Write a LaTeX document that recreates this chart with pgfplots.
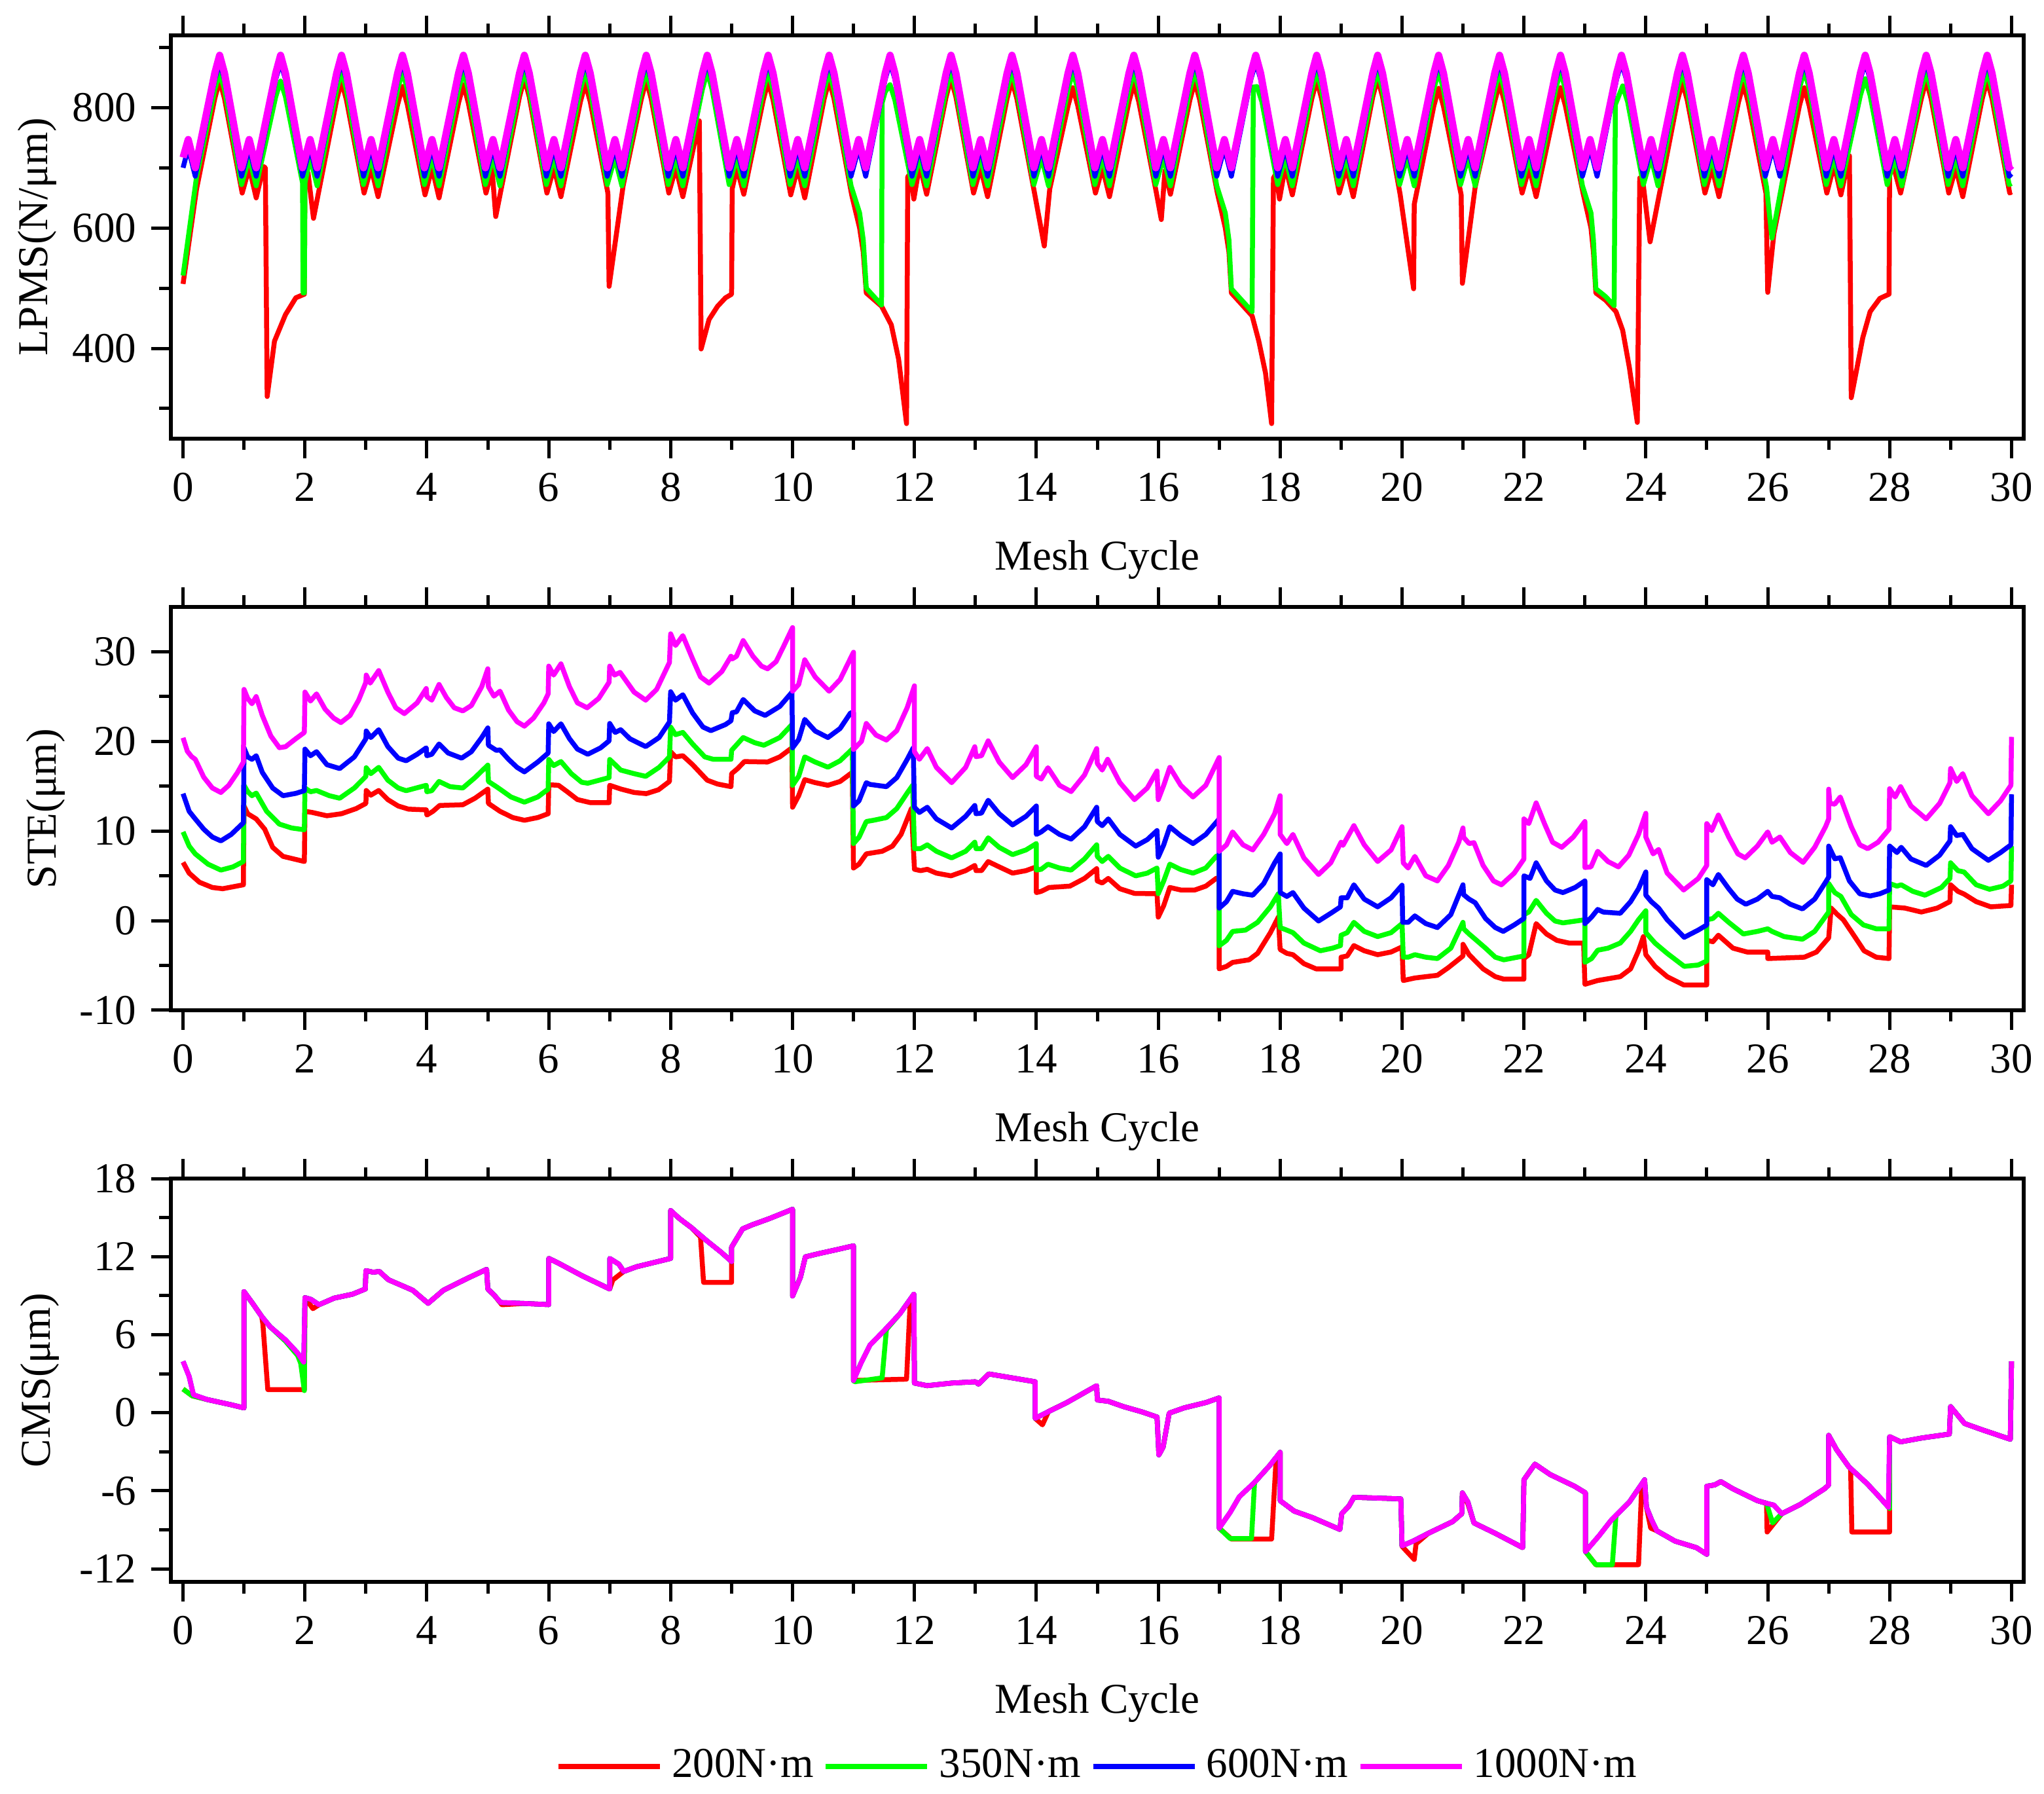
\documentclass[border=0pt]{standalone}
\usepackage{fontspec}
\setmainfont{Liberation Serif}
\usepackage{pgfplots}
\pgfplotsset{compat=1.18}
\usepackage{pgfplotstable}
\definecolor{cR}{RGB}{255,0,0}
\definecolor{cG}{RGB}{0,255,0}
\definecolor{cB}{RGB}{0,0,255}
\definecolor{cM}{RGB}{255,0,255}

\pgfplotstableread{
x y
0 3.95
0.1 2.78
0.17 1.38
0.39 1.02
0.79 0.61
1.0 0.37
1.0 9.31
1.14 8.41
1.29 7.4
1.43 6.6
1.68 5.6
1.88 4.59
1.98 3.89
2.0 8.85
2.1 8.71
2.23 8.3
2.48 8.81
2.78 9.11
2.99 9.51
3.0 10.92
3.12 10.8
3.22 10.86
3.37 10.22
3.77 9.41
4.02 8.41
4.27 9.41
4.66 10.32
4.98 11.02
5.0 9.51
5.11 9.01
5.21 8.47
5.6 8.4
6.0 8.31
6.0 11.86
6.15 11.52
6.55 10.52
7.0 9.51
7.0 11.86
7.15 11.42
7.23 10.86
7.44 11.22
7.79 11.62
8.0 11.86
8.0 15.54
8.14 14.94
8.34 14.23
8.59 13.23
8.83 12.33
9.0 11.62
9.0 12.73
9.18 14.13
9.33 14.43
9.63 14.94
10.0 15.64
10.0 8.97
10.13 10.42
10.21 11.98
10.42 12.22
10.72 12.53
11.0 12.83
11.0 2.48
11.12 3.79
11.27 5.2
11.52 6.4
11.76 7.6
11.99 9.11
12.0 2.28
12.21 2.08
12.61 2.28
13.0 2.38
13.05 2.2
13.22 2.98
13.6 2.68
13.98 2.38
13.98 -0.43
14.15 -0.03
14.5 0.78
14.99 2.08
15.0 0.98
15.18 0.88
15.43 0.47
15.73 0.07
15.98 -0.33
16.01 -3.24
16.08 -2.64
16.18 -0.03
16.43 0.38
16.78 0.78
17.0 1.14
17.0 -8.87
17.18 -7.66
17.33 -6.46
17.58 -5.35
17.83 -4.05
18.0 -3.04
18.0 -6.76
18.23 -7.56
18.53 -8.06
18.98 -8.97
19.01 -7.76
19.13 -7.16
19.21 -6.5
19.6 -6.56
19.98 -6.62
20.0 -10.23
20.18 -9.87
20.43 -9.27
20.83 -8.37
20.98 -7.76
20.99 -6.16
21.08 -6.86
21.18 -8.47
21.53 -9.27
21.98 -10.37
22.0 -5.15
22.18 -3.95
22.43 -4.75
22.83 -5.65
23.01 -6.16
23.01 -10.67
23.23 -9.47
23.43 -8.27
23.73 -6.86
23.98 -5.15
24.01 -7.26
24.1 -8.3
24.18 -9.07
24.48 -9.87
24.83 -10.37
25.0 -10.88
25.0 -5.65
25.13 -5.55
25.23 -5.29
25.43 -5.85
25.83 -6.76
25.98 -6.96
26.1 -7.1
26.23 -7.76
26.53 -7.06
26.93 -5.85
27.0 -5.55
27.0 -1.74
27.13 -2.84
27.33 -4.15
27.63 -5.45
27.83 -6.46
27.98 -7.26
28.0 -1.84
28.18 -2.24
28.53 -1.94
28.98 -1.64
29.0 0.47
29.23 -0.83
29.53 -1.33
29.98 -2.04
30.0 3.95
}\cmag

\pgfplotsset{
  panel/.style={
    scale only axis, width=566pt, height=123.2pt,
    anchor=north west,
    xmin=-0.2, xmax=30.2,
    xtick={0,2,...,30}, minor xtick={1,3,...,29},
    tick align=outside,
    xtick pos=both, ytick pos=left,
    major tick length=6pt, minor tick length=3.5pt,
    tick style={black,line width=1pt},
    axis line style={black,line width=1.2pt},
    /pgf/number format/assume math mode=true,
    xlabel={Mesh Cycle},
    xlabel style={at={(axis description cs:0.5,-0.30)},anchor=center},
    every axis plot/.append style={line width=1.5pt, line join=round, mark=none},
  },
}

\begin{document}
\fontsize{13pt}{15pt}\selectfont
\begin{tikzpicture}
\path[use as bounding box] (0,0) rectangle (624.4pt,-548pt);

% ---------------- panel (a)
\begin{axis}[panel, at={(52.2pt,-10.8pt)},
  ymin=250, ymax=920, ytick={400,600,800}, minor ytick={300,500,700,900},
  ylabel={LPMS(N/μm)},
  ylabel style={at={(axis description cs:-0.072,0.5)},anchor=center}]
\addplot[cR] coordinates {
(0,507) (0.22,664) (0.52,815) (0.6,845) (0.68,815)
(0.97,658) (1.085,700) (1.2,650) (1.32,702) (1.35,700) (1.38,320) (1.5,412) (1.68,456) (1.85,484) (1.99,490)
(2.0,690) (2.05,692) (2.14,616) (2.52,813) (2.6,843) (2.68,813)
(2.97,658) (3.085,700) (3.2,652) (3.52,805) (3.6,835) (3.68,805)
(3.97,655) (4.085,700) (4.2,650) (4.52,808) (4.6,838) (4.68,808)
(4.97,658) (5.07,697) (5.13,619) (5.52,818) (5.6,848) (5.68,818)
(5.97,658) (6.085,700) (6.2,652) (6.52,810) (6.6,840) (6.68,810)
(6.97,658) (6.99,503) (7.22,670) (7.52,815) (7.6,845) (7.68,815)
(7.97,658) (8.085,700) (8.2,652) (8.47,778) (8.5,399) (8.63,448) (8.77,470) (8.9,484) (9.0,490)
(9.01,665) (9.085,700) (9.2,656) (9.52,813) (9.6,843) (9.68,813)
(9.97,655) (10.085,700) (10.2,650) (10.52,815) (10.6,845) (10.68,815)
(10.97,655) (11.1,600) (11.16,560) (11.21,492) (11.46,470) (11.62,439) (11.74,382) (11.87,275) (11.89,685) (11.93,690) (11.99,648) (12.085,705) (12.2,656) (12.52,818) (12.6,848) (12.68,818)
(12.97,658) (13.085,700) (13.2,652) (13.52,815) (13.6,845) (13.68,815)
(13.97,658) (14.13,570) (14.22,665) (14.52,803) (14.6,833) (14.68,803)
(14.97,658) (15.085,700) (15.2,652) (15.52,810) (15.6,840) (15.68,810)
(15.97,658) (16.05,614) (16.11,695) (16.2,656) (16.52,813) (16.6,843) (16.68,813)
(16.97,658) (17.1,600) (17.16,560) (17.2,492) (17.54,454) (17.65,412) (17.76,359) (17.86,275) (17.89,683) (17.93,690) (17.99,648) (18.085,703) (18.2,655) (18.52,815) (18.6,845) (18.68,815)
(18.97,658) (19.085,700) (19.2,652) (19.52,818) (19.6,848) (19.68,818)
(19.97,655) (20.19,499) (20.2,639) (20.52,802) (20.6,832) (20.68,802)
(20.97,655) (20.99,508) (21.2,668) (21.52,810) (21.6,840) (21.68,810)
(21.97,658) (22.085,700) (22.2,652) (22.52,803) (22.6,833) (22.68,803)
(22.97,658) (23.1,600) (23.14,560) (23.18,492) (23.34,480) (23.51,461) (23.62,430) (23.73,368) (23.86,277) (23.9,683) (23.96,670) (24.07,577) (24.52,812) (24.6,842) (24.68,812)
(24.97,658) (25.085,700) (25.2,652) (25.52,809) (25.6,839) (25.68,809)
(25.97,658) (26.0,493) (26.1,590) (26.52,803) (26.6,833) (26.68,803)
(26.97,658) (27.09,705) (27.2,655) (27.34,720) (27.37,318) (27.56,418) (27.68,461) (27.84,483) (27.99,490) (28.0,702) (28.07,700) (28.18,658) (28.52,815) (28.6,845) (28.68,815)
(28.97,658) (29.085,700) (29.2,652) (29.52,815) (29.6,845) (29.68,815)
(29.97,658) (30,660)
};
\addplot[cG] coordinates {
(0,521) (0.22,684) (0.52,830) (0.6,858) (0.68,830)
(0.96,672) (1.085,717) (1.2,670) (1.52,818) (1.6,844) (1.68,818) (1.96,675) (1.97,492) (1.99,492) (2.0,675) (2.085,717) (2.2,670) (2.52,830) (2.6,860) (2.68,830)
(2.96,672) (3.085,717) (3.2,670) (3.52,830) (3.6,860) (3.68,830)
(3.96,672) (4.085,717) (4.2,670) (4.52,830) (4.6,860) (4.68,830)
(4.96,672) (5.085,717) (5.2,670) (5.52,830) (5.6,860) (5.68,830)
(5.96,672) (6.085,717) (6.2,670) (6.52,830) (6.6,860) (6.68,830)
(6.96,672) (7.085,717) (7.2,670) (7.52,830) (7.6,860) (7.68,830)
(7.96,672) (8.085,717) (8.2,670) (8.52,830) (8.6,860) (8.68,830)
(8.96,672) (9.085,717) (9.2,670) (9.52,830) (9.6,860) (9.68,830)
(9.96,672) (10.085,717) (10.2,670) (10.52,830) (10.6,860) (10.68,830)
(10.96,670) (11.1,625) (11.16,580) (11.21,500) (11.46,472) (11.47,808) (11.52,826) (11.6,838) (11.68,812)
(11.96,672) (12.085,717) (12.2,670) (12.52,830) (12.6,860) (12.68,830)
(12.96,672) (13.085,717) (13.2,670) (13.52,830) (13.6,860) (13.68,830)
(13.96,672) (14.085,717) (14.2,670) (14.52,830) (14.6,860) (14.68,830)
(14.96,672) (15.085,717) (15.2,670) (15.52,830) (15.6,860) (15.68,830)
(15.96,672) (16.085,717) (16.2,670) (16.52,830) (16.6,860) (16.68,830)
(16.96,670) (17.1,625) (17.16,580) (17.2,499) (17.54,461) (17.56,834) (17.62,835) (17.7,810)
(17.96,672) (18.085,717) (18.2,670) (18.52,830) (18.6,860) (18.68,830)
(18.96,672) (19.085,717) (19.2,670) (19.52,830) (19.6,860) (19.68,830)
(19.96,672) (20.085,717) (20.2,670) (20.52,830) (20.6,860) (20.68,830)
(20.96,672) (21.085,717) (21.2,670) (21.52,830) (21.6,860) (21.68,830)
(21.96,672) (22.085,717) (22.2,670) (22.52,830) (22.6,860) (22.68,830)
(22.96,670) (23.1,625) (23.14,580) (23.18,499) (23.34,486) (23.48,471) (23.5,805) (23.62,836) (23.7,810)
(23.96,672) (24.085,717) (24.2,670) (24.52,830) (24.6,860) (24.68,830)
(24.96,672) (25.085,717) (25.2,670) (25.52,830) (25.6,860) (25.68,830)
(25.98,668) (26.07,583) (26.52,832) (26.6,861) (26.68,832)
(26.96,672) (27.085,717) (27.2,670) (27.52,820) (27.6,848) (27.68,820)
(27.96,672) (28.085,717) (28.2,670) (28.52,830) (28.6,860) (28.68,830)
(28.96,672) (29.085,717) (29.2,670) (29.52,830) (29.6,860) (29.68,830)
(29.96,672) (30,674)
};
\addplot[cB] coordinates {
(0,700) (0.085,733) (0.2,686) (0.52,847) (0.6,875) (0.68,847)
(0.96,686) (1.085,733) (1.2,686) (1.52,847) (1.6,875) (1.68,847)
(1.96,686) (2.085,733) (2.2,686) (2.52,847) (2.6,875) (2.68,847)
(2.96,686) (3.085,733) (3.2,686) (3.52,847) (3.6,875) (3.68,847)
(3.96,686) (4.085,733) (4.2,686) (4.52,847) (4.6,875) (4.68,847)
(4.96,686) (5.085,733) (5.2,686) (5.52,847) (5.6,875) (5.68,847)
(5.96,686) (6.085,733) (6.2,686) (6.52,847) (6.6,875) (6.68,847)
(6.96,686) (7.085,733) (7.2,686) (7.52,847) (7.6,875) (7.68,847)
(7.96,686) (8.085,733) (8.2,686) (8.52,847) (8.6,875) (8.68,847)
(8.96,686) (9.085,733) (9.2,686) (9.52,847) (9.6,875) (9.68,847)
(9.96,686) (10.085,733) (10.2,686) (10.52,847) (10.6,875) (10.68,847)
(10.96,686) (11.085,733) (11.2,686) (11.52,847) (11.6,875) (11.68,847)
(11.96,686) (12.085,733) (12.2,686) (12.52,847) (12.6,875) (12.68,847)
(12.96,686) (13.085,733) (13.2,686) (13.52,847) (13.6,875) (13.68,847)
(13.96,686) (14.085,733) (14.2,686) (14.52,847) (14.6,875) (14.68,847)
(14.96,686) (15.085,733) (15.2,686) (15.52,847) (15.6,875) (15.68,847)
(15.96,686) (16.085,733) (16.2,686) (16.52,847) (16.6,875) (16.68,847)
(16.96,686) (17.085,733) (17.2,686) (17.52,847) (17.6,875) (17.68,847)
(17.96,686) (18.085,733) (18.2,686) (18.52,847) (18.6,875) (18.68,847)
(18.96,686) (19.085,733) (19.2,686) (19.52,847) (19.6,875) (19.68,847)
(19.96,686) (20.085,733) (20.2,686) (20.52,847) (20.6,875) (20.68,847)
(20.96,686) (21.085,733) (21.2,686) (21.52,847) (21.6,875) (21.68,847)
(21.96,686) (22.085,733) (22.2,686) (22.52,847) (22.6,875) (22.68,847)
(22.96,686) (23.085,733) (23.2,686) (23.52,847) (23.6,875) (23.68,847)
(23.96,686) (24.085,733) (24.2,686) (24.52,847) (24.6,875) (24.68,847)
(24.96,686) (25.085,733) (25.2,686) (25.52,847) (25.6,875) (25.68,847)
(25.96,686) (26.085,733) (26.2,686) (26.52,847) (26.6,875) (26.68,847)
(26.96,686) (27.085,733) (27.2,686) (27.52,847) (27.6,875) (27.68,847)
(27.96,686) (28.085,733) (28.2,686) (28.52,847) (28.6,875) (28.68,847)
(28.96,686) (29.085,733) (29.2,686) (29.52,847) (29.6,875) (29.68,847)
(29.96,686) (30,690)
};
\addplot[cM, line width=2.2pt] coordinates {
(0,717) (0.085,747) (0.2,700) (0.52,857) (0.6,887) (0.68,857)
(0.96,700) (1.085,747) (1.2,700) (1.52,857) (1.6,887) (1.68,857)
(1.96,700) (2.085,747) (2.2,700) (2.52,857) (2.6,887) (2.68,857)
(2.96,700) (3.085,747) (3.2,700) (3.52,857) (3.6,887) (3.68,857)
(3.96,700) (4.085,747) (4.2,700) (4.52,857) (4.6,887) (4.68,857)
(4.96,700) (5.085,747) (5.2,700) (5.52,857) (5.6,887) (5.68,857)
(5.96,700) (6.085,747) (6.2,700) (6.52,857) (6.6,887) (6.68,857)
(6.96,700) (7.085,747) (7.2,700) (7.52,857) (7.6,887) (7.68,857)
(7.96,700) (8.085,747) (8.2,700) (8.52,857) (8.6,887) (8.68,857)
(8.96,700) (9.085,747) (9.2,700) (9.52,857) (9.6,887) (9.68,857)
(9.96,700) (10.085,747) (10.2,700) (10.52,857) (10.6,887) (10.68,857)
(10.96,700) (11.085,747) (11.2,700) (11.52,857) (11.6,887) (11.68,857)
(11.96,700) (12.085,747) (12.2,700) (12.52,857) (12.6,887) (12.68,857)
(12.96,700) (13.085,747) (13.2,700) (13.52,857) (13.6,887) (13.68,857)
(13.96,700) (14.085,747) (14.2,700) (14.52,857) (14.6,887) (14.68,857)
(14.96,700) (15.085,747) (15.2,700) (15.52,857) (15.6,887) (15.68,857)
(15.96,700) (16.085,747) (16.2,700) (16.52,857) (16.6,887) (16.68,857)
(16.96,700) (17.085,747) (17.2,700) (17.52,857) (17.6,887) (17.68,857)
(17.96,700) (18.085,747) (18.2,700) (18.52,857) (18.6,887) (18.68,857)
(18.96,700) (19.085,747) (19.2,700) (19.52,857) (19.6,887) (19.68,857)
(19.96,700) (20.085,747) (20.2,700) (20.52,857) (20.6,887) (20.68,857)
(20.96,700) (21.085,747) (21.2,700) (21.52,857) (21.6,887) (21.68,857)
(21.96,700) (22.085,747) (22.2,700) (22.52,857) (22.6,887) (22.68,857)
(22.96,700) (23.085,747) (23.2,700) (23.52,857) (23.6,887) (23.68,857)
(23.96,700) (24.085,747) (24.2,700) (24.52,857) (24.6,887) (24.68,857)
(24.96,700) (25.085,747) (25.2,700) (25.52,857) (25.6,887) (25.68,857)
(25.96,700) (26.085,747) (26.2,700) (26.52,857) (26.6,887) (26.68,857)
(26.96,700) (27.085,747) (27.2,700) (27.52,857) (27.6,887) (27.68,857)
(27.96,700) (28.085,747) (28.2,700) (28.52,857) (28.6,887) (28.68,857)
(28.96,700) (29.085,747) (29.2,700) (29.52,857) (29.6,887) (29.68,857)
(29.96,700) (30,704)
};
\node at (axis description cs:-0.0647,0.977) {(a)};
\end{axis}

% ---------------- panel (b)
\begin{axis}[panel, at={(52.2pt,-185.4pt)},
  ymin=-10, ymax=35, ytick={-10,0,10,20,30}, minor ytick={-5,5,15,25},
  ylabel={STE(μm)},
  ylabel style={at={(axis description cs:-0.0675,0.5)},anchor=center}]
\addplot[cR] coordinates {
(0,6.5) (0.1,5.3) (0.27,4.28) (0.48,3.7) (0.65,3.56) (0.99,4.0)
(1.0,12.79) (1.06,11.93) (1.2,11.35) (1.34,10.2) (1.47,8.18) (1.64,7.17) (1.99,6.6)
(2.0,12.2) (2.12,12.07) (2.36,11.7) (2.6,11.93) (2.84,12.5) (3.0,13.08)
(3.005,14.52) (3.08,14.0) (3.21,14.52) (3.36,13.5) (3.53,12.79) (3.7,12.44) (3.99,12.36) (4.0,11.78) (4.1,12.2) (4.21,12.85) (4.59,12.93) (4.79,13.66) (5.0,14.67) (5.01,13.08) (5.2,12.2) (5.41,11.5) (5.6,11.2) (5.82,11.5) (5.99,11.93)
(6.0,15.16) (6.16,15.1) (6.3,14.4) (6.47,13.51) (6.68,13.17) (6.99,13.17)
(7.0,15.1) (7.19,14.67) (7.4,14.3) (7.6,14.17) (7.8,14.6) (7.98,15.53)
(8.0,18.85) (8.08,18.27) (8.2,18.4) (8.36,17.4) (8.6,15.67) (8.77,15.24) (8.99,14.95) (9.0,16.4) (9.1,16.97) (9.21,17.75) (9.59,17.7) (9.79,18.27) (9.99,19.28)
(10.0,12.65) (10.1,13.94) (10.2,15.73) (10.37,15.4) (10.58,15.1) (10.78,15.53) (10.98,16.54)
(11.0,5.87) (11.09,6.3) (11.21,7.45) (11.47,7.74) (11.64,8.32) (11.78,9.62) (11.95,12.5)
(12.0,5.73) (12.1,5.58) (12.21,5.73) (12.36,5.3) (12.6,5.0) (12.84,5.58) (12.99,6.16) (13.01,5.58) (13.1,5.58) (13.21,6.59) (13.39,6.0) (13.61,5.3) (13.83,5.58) (14.0,6.0)
(14.0,3.13) (14.08,3.27) (14.21,3.7) (14.55,3.85) (14.79,4.71) (14.99,5.8) (15.0,4.43) (15.08,4.2) (15.18,4.71) (15.37,3.56) (15.61,3.04) (15.98,3.0)
(16.0,0.39) (16.09,1.68) (16.19,3.7) (16.37,3.42) (16.6,3.42) (16.78,3.85) (16.95,4.71) (17.0,4.8)
(17.0,-5.38) (17.12,-5.1) (17.22,-4.66) (17.49,-4.37) (17.63,-3.65) (17.84,-1.34) (17.97,0.39)
(18.0,-3.22) (18.11,-3.65) (18.21,-3.8) (18.39,-4.8) (18.59,-5.38) (19.0,-5.38) (19.0,-4.08) (19.1,-3.94) (19.21,-2.78) (19.38,-3.36) (19.6,-3.8) (19.82,-3.5) (20.0,-2.93)
(20.02,-6.68) (20.21,-6.4) (20.39,-6.25) (20.58,-6.1) (20.76,-5.24) (21.0,-3.94) (21.0,-2.64) (21.1,-3.8) (21.33,-5.38) (21.53,-6.25) (21.67,-6.53) (22.0,-6.53)
(22.0,-4.23) (22.08,-3.8) (22.2,-0.33) (22.37,-1.49) (22.54,-2.2) (22.74,-2.5) (22.98,-2.5)
(23.0,-7.1) (23.21,-6.68) (23.58,-6.25) (23.75,-5.38) (23.88,-3.36) (23.96,-1.78) (24.0,-3.8) (24.15,-5.1) (24.35,-6.25) (24.62,-7.17) (25.0,-7.17)
(25.0,-2.2) (25.1,-2.35) (25.19,-1.63) (25.43,-3.07) (25.66,-3.5) (26.0,-3.5) (26.0,-4.23) (26.6,-4.08) (26.8,-3.5) (27.0,-1.92) (27.04,1.4) (27.14,0.7) (27.24,0.1) (27.44,-1.92) (27.58,-3.36) (27.78,-4.08) (27.99,-4.23)
(28.0,1.54) (28.25,1.4) (28.52,0.96) (28.78,1.4) (28.99,2.12) (29.0,4.0) (29.12,3.27) (29.22,2.97) (29.42,2.12) (29.66,1.54) (29.99,1.69)
(30.0,4.0)
};
\addplot[cG] coordinates {
(0,9.9) (0.1,8.32) (0.2,7.45) (0.41,6.3) (0.62,5.64) (0.82,6.0) (0.99,6.6)
(1.0,15.1) (1.06,14.4) (1.13,13.94) (1.2,14.23) (1.37,12.21) (1.58,10.77) (1.78,10.34) (1.99,10.14)
(2.0,14.8) (2.09,14.38) (2.19,14.52) (2.4,13.94) (2.57,13.66) (2.81,14.8) (3.0,16.1)
(3.005,17.06) (3.08,16.4) (3.21,17.1) (3.36,15.67) (3.53,14.8) (3.66,14.5) (3.99,15.1) (4.0,14.38) (4.08,14.5) (4.2,15.53) (4.38,14.95) (4.59,14.8) (4.79,15.96) (5.0,17.35) (5.01,15.53) (5.14,14.95) (5.2,14.67) (5.38,13.8) (5.6,13.22) (5.82,13.8) (5.99,14.67)
(6.0,17.98) (6.08,17.3) (6.2,17.75) (6.37,16.4) (6.54,15.44) (6.64,15.33) (6.99,15.96)
(7.0,17.98) (7.09,17.4) (7.18,16.8) (7.4,16.4) (7.59,16.1) (7.81,17.1) (7.98,18.27)
(8.0,21.6) (8.08,20.75) (8.2,21.0) (8.36,19.71) (8.56,18.27) (8.7,18.0) (8.99,18.0) (9.0,19.0) (9.19,20.43) (9.38,19.85) (9.53,19.57) (9.79,20.43) (9.99,21.88)
(10.0,15.1) (10.1,16.1) (10.2,18.27) (10.37,17.7) (10.58,17.12) (10.78,17.84) (10.98,19.14)
(11.0,8.6) (11.09,9.3) (11.21,11.06) (11.33,11.2) (11.54,11.5) (11.71,12.5) (11.88,14.23) (11.97,15.1)
(12.0,8.03) (12.1,8.03) (12.21,8.46) (12.36,7.74) (12.61,7.0) (12.84,7.74) (12.99,8.75) (13.01,8.03) (13.1,8.03) (13.21,9.24) (13.39,8.18) (13.61,7.37) (13.83,7.89) (14.0,8.6)
(14.0,5.64) (14.08,5.73) (14.19,6.3) (14.38,5.87) (14.57,5.64) (14.79,6.88) (14.99,8.46) (15.0,7.17) (15.08,6.6) (15.18,7.17) (15.37,5.87) (15.63,5.0) (15.82,5.3) (15.98,5.87)
(16.0,3.0) (16.09,4.43) (16.19,6.3) (16.37,5.7) (16.57,5.3) (16.78,5.87) (16.95,7.17) (17.0,7.3)
(17.0,-2.8) (17.12,-2.2) (17.22,-1.2) (17.43,-1.06) (17.63,-0.19) (17.84,1.54) (17.97,3.0)
(18.0,-0.77) (18.11,-1.06) (18.21,-1.34) (18.39,-2.5) (18.66,-3.36) (18.86,-3.07) (18.99,-2.78) (19.0,-1.63) (19.1,-1.34) (19.21,-0.19) (19.38,-1.2) (19.6,-1.78) (19.82,-1.34) (20.0,-0.33)
(20.02,-4.08) (20.1,-4.08) (20.21,-3.8) (20.39,-4.08) (20.58,-4.23) (20.8,-3.07) (21.0,-0.19) (21.01,-0.9) (21.1,-1.49) (21.2,-2.07) (21.37,-3.07) (21.53,-4.08) (21.67,-4.37) (22.0,-3.94)
(22.0,0.68) (22.08,0.96) (22.2,2.26) (22.37,0.82) (22.51,-0.04) (22.64,-0.25) (23.0,0.1)
(23.0,-4.66) (23.11,-4.23) (23.21,-3.3) (23.38,-3.07) (23.58,-2.5) (23.75,-1.2) (23.88,0.1) (24.0,1.1)
(24.0,-1.34) (24.15,-2.5) (24.35,-3.65) (24.63,-5.1) (24.86,-4.95) (25.0,-4.5)
(25.0,0.1) (25.1,0.24) (25.19,0.82) (25.36,-0.19) (25.6,-1.49) (25.83,-1.2) (26.0,-0.91) (26.07,-1.2) (26.27,-1.78) (26.57,-2.07) (26.77,-1.2) (27.0,0.96)
(27.0,4.14) (27.1,3.13) (27.2,2.7) (27.37,0.68) (27.57,-0.48) (27.78,-0.91) (27.99,-0.91)
(28.0,4.14) (28.12,3.85) (28.19,4.0) (28.38,3.27) (28.58,2.84) (28.85,3.7) (28.99,4.71) (29.0,6.45) (29.12,5.58) (29.22,5.43) (29.42,4.0) (29.64,3.5) (29.86,3.85) (29.99,4.43)
(30.0,8.32)
};
\addplot[cB] coordinates {
(0,14.17) (0.1,12.2) (0.2,11.35) (0.34,10.2) (0.48,9.33) (0.62,8.9) (0.79,9.62) (0.99,10.92)
(1.0,19.28) (1.06,18.27) (1.13,18.0) (1.2,18.4) (1.3,16.54) (1.47,14.8) (1.64,13.94) (1.85,14.2) (1.99,14.5)
(2.0,19.14) (2.09,18.4) (2.19,18.85) (2.36,17.4) (2.57,16.97) (2.81,18.27) (3.0,20.3)
(3.005,21.16) (3.08,20.43) (3.21,21.3) (3.36,19.42) (3.53,18.13) (3.66,17.84) (3.84,18.56) (3.99,19.28) (4.0,18.4) (4.08,18.56) (4.2,19.71) (4.35,18.7) (4.57,18.13) (4.73,18.85) (4.9,20.43) (5.0,21.5) (5.01,19.57) (5.14,19.0) (5.2,19.05) (5.34,18.0) (5.48,17.1) (5.6,16.6) (5.82,17.7) (5.99,18.7)
(6.0,21.96) (6.08,21.1) (6.2,21.96) (6.34,20.3) (6.47,19.14) (6.64,18.56) (6.85,19.28) (6.99,20.06)
(7.0,22.0) (7.09,21.0) (7.18,21.3) (7.33,20.3) (7.59,19.42) (7.81,20.43) (7.98,22.16)
(8.0,25.54) (8.08,24.6) (8.2,25.2) (8.36,23.17) (8.53,21.6) (8.66,21.2) (8.9,21.88) (8.99,22.3) (9.01,23.2) (9.08,23.3) (9.19,24.67) (9.38,23.4) (9.55,22.9) (9.79,23.9) (9.99,25.48)
(10.0,19.28) (10.1,20.2) (10.2,22.45) (10.37,21.16) (10.58,20.43) (10.78,21.44) (10.95,23.17) (11.0,23.2)
(11.0,12.79) (11.09,13.37) (11.21,15.39) (11.27,15.2) (11.54,14.95) (11.71,15.96) (11.88,17.98) (11.98,19.28)
(12.0,12.65) (12.08,12.07) (12.21,12.65) (12.36,11.35) (12.61,10.34) (12.84,11.64) (12.99,12.85) (13.01,11.93) (13.1,12.0) (13.21,13.43) (13.39,11.93) (13.61,10.68) (13.83,11.64) (14.0,12.79)
(14.0,9.62) (14.08,9.9) (14.19,10.48) (14.38,9.62) (14.57,9.1) (14.79,10.48) (14.99,12.65) (15.0,11.06) (15.08,10.6) (15.18,11.35) (15.37,9.62) (15.63,8.32) (15.82,9.04) (15.98,10.05)
(16.0,7.08) (16.09,8.46) (16.19,10.48) (16.37,9.47) (16.57,8.6) (16.78,9.62) (17.0,11.35)
(17.0,1.4) (17.12,2.12) (17.22,3.27) (17.39,3.0) (17.55,2.84) (17.73,4.14) (17.91,6.45) (18.0,7.45)
(18.0,3.13) (18.11,2.7) (18.21,3.13) (18.39,1.4) (18.63,-0.04) (18.83,0.82) (18.99,1.54) (19.0,2.55) (19.1,2.55) (19.21,4.0) (19.38,2.4) (19.6,1.54) (19.82,2.55) (20.0,3.95)
(20.01,-0.19) (20.1,-0.19) (20.21,0.53) (20.39,-0.33) (20.58,-0.77) (20.8,0.67) (21.0,4.0) (21.01,2.9) (21.1,2.4) (21.2,2.0) (21.37,0.24) (21.53,-0.77) (21.66,-1.2) (21.84,-0.48) (22.0,0.24)
(22.0,5.0) (22.1,4.71) (22.2,6.45) (22.37,4.43) (22.51,3.42) (22.64,3.13) (22.84,3.7) (23.0,4.43)
(23.0,-0.33) (23.11,0.4) (23.21,1.25) (23.3,0.96) (23.58,0.82) (23.75,2.12) (23.88,3.56) (24.0,5.43)
(24.0,2.84) (24.09,2.12) (24.21,1.4) (24.35,0.1) (24.63,-1.86) (24.86,-1.05) (25.0,-0.48)
(25.0,4.57) (25.1,4.0) (25.19,5.15) (25.36,3.56) (25.5,2.4) (25.64,1.83) (25.83,2.4) (26.0,3.27) (26.07,2.7) (26.2,2.55) (26.37,1.83) (26.57,1.31) (26.77,2.4) (26.95,4.3) (27.0,4.86)
(27.0,8.32) (27.1,6.9) (27.19,7.02) (27.34,4.43) (27.51,3.0) (27.68,2.75) (27.84,3.0) (27.99,3.42)
(28.0,8.32) (28.12,7.6) (28.19,8.18) (28.35,6.88) (28.6,6.16) (28.82,7.3) (28.99,8.9) (29.0,10.48) (29.1,9.5) (29.2,9.62) (29.35,8.03) (29.62,6.73) (29.82,7.6) (29.99,8.46)
(30.0,14.09)
};
\addplot[cM] coordinates {
(0,20.4) (0.07,18.9) (0.14,18.3) (0.2,18.0) (0.34,16.0) (0.48,14.8) (0.62,14.3) (0.75,15.1) (0.89,16.5) (0.99,17.7)
(1.0,25.8) (1.06,24.8) (1.13,24.2) (1.2,25.0) (1.3,22.9) (1.44,20.6) (1.58,19.3) (1.68,19.4) (1.85,20.3) (1.99,21.0)
(2.0,25.5) (2.09,24.5) (2.19,25.3) (2.33,23.6) (2.47,22.6) (2.59,22.1) (2.74,22.9) (2.88,24.6) (3.0,26.6)
(3.005,27.4) (3.07,26.5) (3.21,27.9) (3.36,25.5) (3.49,23.75) (3.63,23.1) (3.84,24.3) (3.99,25.9) (4.0,25.0) (4.08,24.6) (4.2,26.35) (4.32,24.9) (4.45,23.75) (4.59,23.4) (4.73,24.0) (4.9,26.1) (5.0,28.1) (5.01,26.1) (5.1,25.05) (5.2,25.6) (5.34,23.5) (5.48,22.2) (5.6,21.7) (5.75,22.6) (5.92,24.3) (5.99,25.3)
(6.0,28.4) (6.08,27.4) (6.2,28.65) (6.34,26.1) (6.47,24.3) (6.63,23.75) (6.82,24.8) (6.99,26.6)
(7.0,28.4) (7.08,27.4) (7.17,27.7) (7.4,25.5) (7.59,24.6) (7.77,25.8) (7.98,28.8)
(8.0,32.0) (8.08,30.7) (8.2,31.8) (8.36,29.2) (8.49,27.2) (8.63,26.5) (8.84,27.8) (8.99,29.5) (9.01,29.2) (9.08,29.5) (9.19,31.25) (9.35,29.5) (9.49,28.4) (9.59,28.1) (9.73,28.9) (9.86,30.7) (10.0,32.7)
(10.0,25.6) (10.1,26.35) (10.2,29.1) (10.37,27.2) (10.6,25.6) (10.78,26.9) (11.0,29.95)
(11.0,19.1) (11.13,20.0) (11.21,22.0) (11.37,20.7) (11.54,20.15) (11.71,21.2) (11.88,23.75) (12.0,26.2)
(12.0,18.85) (12.08,18.0) (12.21,19.2) (12.36,17.1) (12.61,15.4) (12.84,17.1) (12.99,19.4) (13.01,18.3) (13.1,18.4) (13.21,20.06) (13.39,17.7) (13.61,15.96) (13.83,17.4) (14.0,19.4)
(14.0,16.1) (14.08,15.8) (14.19,17.06) (14.38,15.1) (14.57,14.4) (14.79,16.25) (14.99,19.2) (15.0,17.55) (15.08,16.8) (15.17,18.0) (15.37,15.4) (15.61,13.5) (15.82,14.8) (15.98,16.7)
(16.0,13.5) (16.09,15.1) (16.19,17.1) (16.37,15.1) (16.57,13.8) (16.78,15.1) (17.0,18.2)
(17.0,7.74) (17.12,8.46) (17.22,9.9) (17.39,8.46) (17.55,7.89) (17.73,9.62) (17.91,11.93) (18.0,13.94)
(18.0,9.62) (18.11,8.6) (18.21,9.62) (18.39,7.0) (18.63,5.15) (18.83,6.45) (19.0,8.75) (19.03,8.4) (19.21,10.6) (19.38,8.46) (19.6,6.6) (19.82,7.89) (20.0,10.48)
(20.02,6.45) (20.1,5.87) (20.21,7.17) (20.39,5.0) (20.58,4.43) (20.76,6.16) (20.93,8.75) (21.0,10.34) (21.01,9.3) (21.1,8.6) (21.18,8.7) (21.33,6.16) (21.5,4.43) (21.63,4.0) (21.84,5.3) (22.0,6.88)
(22.0,11.35) (22.08,10.83) (22.2,13.14) (22.34,10.77) (22.47,8.75) (22.62,8.18) (22.81,9.33) (23.0,11.06)
(23.0,5.93) (23.1,6.0) (23.21,7.74) (23.38,6.59) (23.55,6.0) (23.72,7.3) (23.88,9.62) (24.0,11.98)
(24.0,9.33) (24.12,7.45) (24.21,7.94) (24.35,5.3) (24.62,3.42) (24.86,4.7) (25.0,6.16)
(25.0,10.83) (25.08,10.05) (25.19,11.78) (25.36,9.33) (25.51,7.45) (25.63,7.0) (25.83,8.32) (26.0,9.9) (26.07,8.75) (26.2,9.33) (26.37,7.6) (26.58,6.5) (26.77,8.18) (26.95,10.5) (27.0,11.35)
(27.0,14.67) (27.02,13.08) (27.1,13.0) (27.19,13.8) (27.37,10.48) (27.51,8.46) (27.64,8.03) (27.81,8.75) (27.99,10.2)
(28.0,14.72) (28.09,13.8) (28.18,14.95) (28.35,12.79) (28.6,11.35) (28.82,13.08) (28.99,15.39) (29.0,16.97) (29.1,15.53) (29.2,16.4) (29.35,13.94) (29.62,11.93) (29.82,13.37) (29.99,15.1)
(30.0,20.5)
};
\node at (axis description cs:-0.0647,0.914) {(b)};
\end{axis}

% ---------------- panel (c)
\begin{axis}[panel, at={(52.2pt,-360pt)},
  ymin=-13, ymax=18, ytick={-12,-6,0,6,12,18}, minor ytick={-9,-3,3,9,15},
  ylabel={CMS(μm)},
  ylabel style={at={(axis description cs:-0.0707,0.5)},anchor=center},
  legend columns=4,
  legend style={at={(0.5,-0.458)},anchor=center,draw=none,fill=none,
    column sep=2.4pt, nodes={inner sep=0.5pt}},
  legend image code/.code={\draw[#1] (0pt,0pt) -- (31pt,0pt);}]
\addplot[cR] coordinates {
(0,1.82) (0.15,1.3) (0.39,1.02) (0.79,0.61) (1.0,0.37)
(1.0,9.31) (1.14,8.41) (1.29,7.4) (1.31,6.8) (1.39,1.78) (1.99,1.78)
(2.0,8.85) (2.13,8.0) (2.23,8.3) (2.48,8.81) (2.78,9.11) (2.99,9.51)
(3.0,10.92) (3.12,10.8) (3.22,10.86) (3.37,10.22) (3.77,9.41) (4.02,8.41) (4.27,9.41) (4.66,10.32) (4.98,11.02)
(5.0,9.51) (5.11,9.01) (5.23,8.3) (5.6,8.4) (6.0,8.31)
(6.0,11.86) (6.15,11.52) (6.55,10.52) (7.0,9.51)
(7.05,10.2) (7.23,10.86) (7.44,11.22) (7.79,11.62) (8.0,11.86)
(8.0,15.54) (8.14,14.94) (8.34,14.23) (8.49,13.5) (8.54,10.02) (9.0,10.02)
(9.0,12.73) (9.18,14.13) (9.33,14.43) (9.63,14.94) (10.0,15.64)
(10.0,8.97) (10.13,10.42) (10.21,11.98) (10.42,12.22) (10.72,12.53) (11.0,12.83)
(11.0,2.48) (11.87,2.58) (11.93,8.5) (11.99,9.11)
(12.0,2.28) (12.21,2.08) (12.61,2.28) (13.0,2.38) (13.05,2.2) (13.22,2.98) (13.6,2.68) (13.98,2.38)
(13.98,-0.43) (14.1,-0.93) (14.2,0.1) (14.5,0.78) (14.99,2.08)
(15.0,0.98) (15.18,0.88) (15.43,0.47) (15.73,0.07) (15.98,-0.33)
(16.01,-3.24) (16.08,-2.64) (16.18,-0.03) (16.43,0.38) (16.78,0.78) (17.0,1.14)
(17.0,-8.87) (17.2,-9.71) (17.86,-9.71) (17.93,-3.84) (18.0,-3.04)
(18.0,-6.76) (18.23,-7.56) (18.53,-8.06) (18.98,-8.97) (19.01,-7.76) (19.13,-7.16) (19.21,-6.5) (19.6,-6.56) (19.98,-6.62)
(20.0,-10.27) (20.2,-11.28) (20.23,-10.07) (20.43,-9.27) (20.83,-8.37) (20.98,-7.76) (20.99,-6.16) (21.08,-7.0) (21.18,-8.47) (21.53,-9.27) (21.98,-10.37)
(22.0,-5.15) (22.18,-3.95) (22.43,-4.75) (22.83,-5.65) (23.01,-6.16)
(23.01,-10.67) (23.18,-11.68) (23.88,-11.68) (23.93,-5.95) (23.98,-5.15)
(24.01,-7.26) (24.08,-8.87) (24.18,-9.07) (24.48,-9.87) (24.83,-10.37) (25.0,-10.88)
(25.0,-5.65) (25.13,-5.55) (25.23,-5.29) (25.43,-5.85) (25.83,-6.76) (25.98,-6.96) (25.99,-9.17) (26.23,-7.76) (26.53,-7.06) (26.93,-5.85) (27.0,-5.55)
(27.0,-1.74) (27.13,-2.84) (27.33,-4.15) (27.36,-4.3) (27.38,-9.17) (28.0,-9.17)
(28.0,-1.84) (28.18,-2.24) (28.53,-1.94) (28.98,-1.64)
(29.0,0.47) (29.23,-0.83) (29.53,-1.33) (29.98,-2.04)
(30.0,3.95)
};
\addplot[cG] coordinates {
(0,1.82) (0.15,1.3) (0.39,1.02) (0.79,0.61) (1.0,0.37)
(1.0,9.31) (1.14,8.41) (1.29,7.4) (1.43,6.6) (1.68,5.5) (1.88,4.4) (1.93,3.8) (1.99,1.7)
(2.0,8.85) (2.1,8.71) (2.23,8.3) (2.48,8.81) (2.78,9.11) (2.99,9.51)
(3.0,10.92) (3.12,10.8) (3.22,10.86) (3.37,10.22) (3.77,9.41) (4.02,8.41) (4.27,9.41) (4.66,10.32) (4.98,11.02)
(5.0,9.51) (5.11,9.01) (5.21,8.47) (5.6,8.4) (6.0,8.31)
(6.0,11.86) (6.15,11.52) (6.55,10.52) (7.0,9.51)
(7.0,11.86) (7.15,11.42) (7.23,10.86) (7.44,11.22) (7.79,11.62) (8.0,11.86)
(8.0,15.54) (8.14,14.94) (8.34,14.23) (8.59,13.23) (8.83,12.33) (9.0,11.62)
(9.0,12.73) (9.18,14.13) (9.33,14.43) (9.63,14.94) (10.0,15.64)
(10.0,8.97) (10.13,10.42) (10.21,11.98) (10.42,12.22) (10.72,12.53) (11.0,12.83)
(11.0,2.48) (11.02,2.38) (11.47,2.68) (11.54,6.4) (11.76,7.6) (11.99,9.11)
(12.0,2.28) (12.21,2.08) (12.61,2.28) (13.0,2.38) (13.05,2.2) (13.22,2.98) (13.6,2.68) (13.98,2.38)
(13.98,-0.43) (14.15,-0.03) (14.5,0.78) (14.99,2.08)
(15.0,0.98) (15.18,0.88) (15.43,0.47) (15.73,0.07) (15.98,-0.33)
(16.01,-3.24) (16.08,-2.64) (16.18,-0.03) (16.43,0.38) (16.78,0.78) (17.0,1.14)
(17.0,-8.87) (17.18,-9.67) (17.53,-9.67) (17.58,-5.35) (17.83,-4.05) (18.0,-3.04)
(18.0,-6.76) (18.23,-7.56) (18.53,-8.06) (18.98,-8.97) (19.01,-7.76) (19.13,-7.16) (19.21,-6.5) (19.6,-6.56) (19.98,-6.62)
(20.0,-10.23) (20.18,-9.87) (20.43,-9.27) (20.83,-8.37) (20.98,-7.76) (20.99,-6.16) (21.08,-6.86) (21.18,-8.47) (21.53,-9.27) (21.98,-10.37)
(22.0,-5.15) (22.18,-3.95) (22.43,-4.75) (22.83,-5.65) (23.01,-6.16)
(23.01,-10.67) (23.18,-11.68) (23.45,-11.68) (23.51,-7.9) (23.73,-6.86) (23.98,-5.15)
(24.01,-7.26) (24.1,-8.3) (24.18,-9.07) (24.48,-9.87) (24.83,-10.37) (25.0,-10.88)
(25.0,-5.65) (25.13,-5.55) (25.23,-5.29) (25.43,-5.85) (25.83,-6.76) (25.98,-6.96) (26.08,-8.47) (26.23,-7.76) (26.53,-7.06) (26.93,-5.85) (27.0,-5.55)
(27.0,-1.74) (27.13,-2.84) (27.33,-4.15) (27.63,-5.45) (27.83,-6.46) (28.0,-7.36)
(28.0,-1.84) (28.18,-2.24) (28.53,-1.94) (28.98,-1.64)
(29.0,0.47) (29.23,-0.83) (29.53,-1.33) (29.98,-2.04)
(30.0,3.95)
};
\addplot[cB] table {\cmag};
\addplot[cM] table {\cmag};
\legend{200N·m,350N·m,600N·m,1000N·m}
\node at (axis description cs:-0.0647,0.937) {(c)};
\end{axis}
\end{tikzpicture}
\end{document}
